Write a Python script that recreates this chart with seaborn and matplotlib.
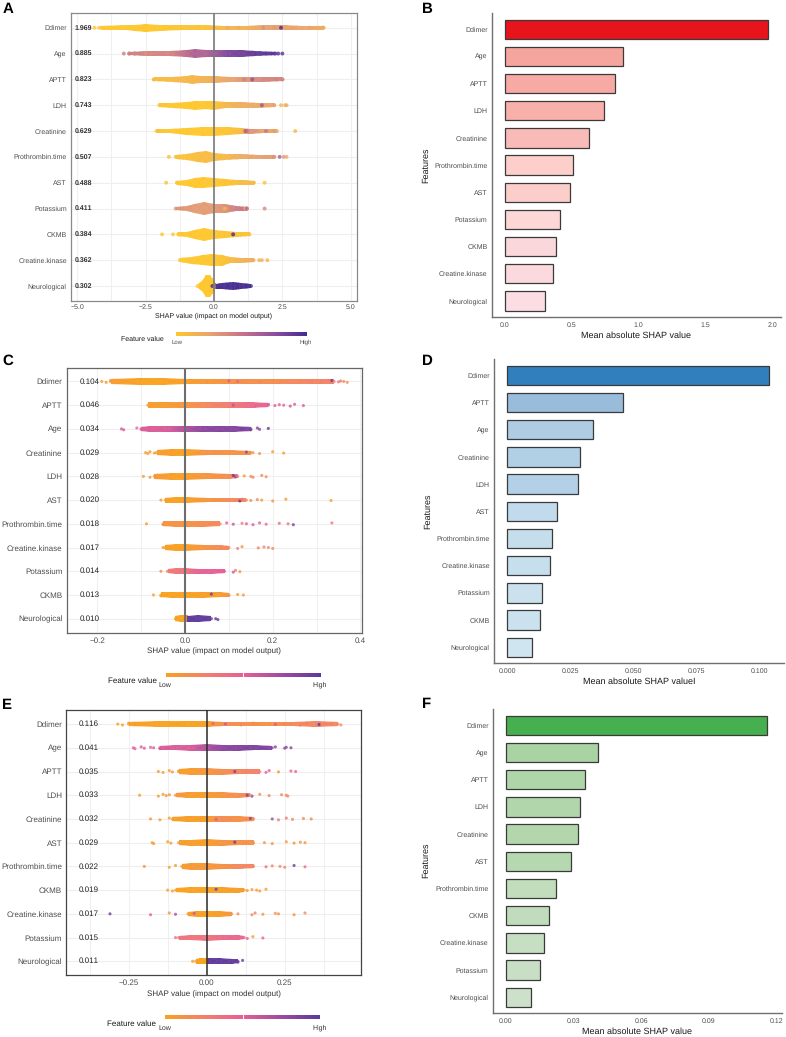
import numpy as np
import pandas as pd
import matplotlib
matplotlib.use("Agg")
import matplotlib.pyplot as plt
from matplotlib.colors import LinearSegmentedColormap
import seaborn as sns

W, H = 786, 1037
GRAY = "#4d4d4d"

# Feature order and mean |SHAP| per cohort
a_features = ["Ddimer", "Age", "APTT", "LDH", "Creatinine", "Prothrombin.time", "AST",
              "Potassium", "CKMB", "Creatine.kinase", "Neurological"]
a_means = [1.969, 0.885, 0.823, 0.743, 0.629, 0.507, 0.488, 0.411, 0.384, 0.362, 0.302]
c_features = ["Ddimer", "APTT", "Age", "Creatinine", "LDH", "AST", "Prothrombin.time",
              "Creatine.kinase", "Potassium", "CKMB", "Neurological"]
c_means = [0.104, 0.046, 0.034, 0.029, 0.028, 0.020, 0.018, 0.017, 0.014, 0.013, 0.010]
e_features = ["Ddimer", "Age", "APTT", "LDH", "Creatinine", "AST", "Prothrombin.time",
              "CKMB", "Creatine.kinase", "Potassium", "Neurological"]
e_means = [0.116, 0.041, 0.035, 0.033, 0.032, 0.029, 0.022, 0.019, 0.017, 0.015, 0.011]

# Bar colours
b_colors = ["#E8141C", "#F6A59E", "#F7A9A4", "#F8B0AB", "#F9BBB7", "#FCCFCB", "#FCCECB",
            "#FDD6D6", "#FAD7DA", "#FBD9DE", "#FBDDE3"]
d_colors = ["#3180BD", "#9ABCDB", "#AECCE3", "#B1CFE5", "#B3D0E6", "#C1DBEC", "#C5DEEC",
            "#C5DFED", "#CBE2EE", "#CBE2EE", "#CFE5EF"]
f_colors = ["#46B04E", "#A9D3A3", "#AFD6A9", "#B2D6AC", "#B3D6AD", "#B6D8B0", "#C1DDBB",
            "#C1DCBD", "#C6DFC3", "#C8DFC5", "#CDE0CA"]

# Swarm outlines: SHAP position, half thickness in pixels, feature-value tone
a_body_x = [[-4.1, -3.2, -2.9, -2.5, -2.0, -1.2, -0.3, 0.3, 1.2, 1.8, 2.5, 3.2, 4.0],
            [-3.1, -2.4, -1.6, -1, -0.7, -0.3, 0, 0.5, 1, 1.5, 2.2],
            [-2.2, -1.5, -1, -0.8, -0.5, -0.2, 0, 0.6, 1.2, 1.8, 2.5],
            [-2.0, -1.5, -1, -0.7, -0.3, 0, 0.4, 1, 1.6, 2.2],
            [-2.1, -1.6, -1, -0.4, 0, 0.5, 1, 1.3, 1.8, 2.3],
            [-1.4, -1, -0.6, -0.3, 0, 0.4, 1, 1.6, 2.2],
            [-1.35, -1, -0.7, -0.4, 0, 0.4, 0.8, 1.1, 1.45],
            [-1.4, -1, -0.7, -0.35, 0, 0.4, 0.8, 1.2],
            [-1.3, -1, -0.7, -0.35, 0, 0.4, 0.8, 1.3],
            [-1.25, -0.8, -0.4, -0.1, 0.3, 0.6, 1, 1.45],
            [-0.6, -0.45, -0.3, -0.15, -0.05, 0.02, 0.08, 0.3, 0.7, 1, 1.35]]
a_body_half = [[1.2, 1.5, 2.2, 3.2, 2.2, 1.6, 1.5, 1.2, 1.2, 1.5, 1.6, 1.4, 1.2],
               [1.1, 1.5, 1.8, 2.5, 3.4, 2.4, 2.4, 3, 2.3, 1.6, 1.1],
               [1.2, 1.6, 2.5, 4, 3, 2.4, 2.6, 1.8, 1.8, 1.6, 1.3],
               [1.3, 1.7, 2.6, 3.8, 3, 3.6, 2.4, 2.2, 1.7, 1.3],
               [1.2, 1.5, 2.7, 3.7, 3.7, 3.2, 2, 1.7, 1.5, 1.2],
               [1.1, 2.2, 4, 5, 3.5, 2.5, 1.6, 1.5, 1.3],
               [1.2, 2, 4, 4.8, 3.5, 2.5, 1.8, 1.6, 1.3],
               [1.1, 1.8, 3.5, 5.5, 4, 3.3, 1.8, 1.2],
               [1.2, 1.8, 3.6, 5.8, 4, 2.4, 1.8, 1.2],
               [1.2, 2.6, 4, 5, 4.5, 2.2, 1.6, 1.2],
               [1.5, 4, 10, 10, 6, 2.5, 1.7, 2, 3, 2, 1.6]]
a_body_tone = [[0, 0, 0, 0, 0, 0.02, 0.04, 0.1, 0.16, 0.25, 0.28, 0.24, 0.2],
               [0.45, 0.42, 0.42, 0.55, 0.62, 0.6, 0.68, 0.8, 0.85, 0.9, 0.92],
               [0.08, 0.1, 0.12, 0.12, 0.14, 0.16, 0.18, 0.25, 0.32, 0.4, 0.42],
               [0.02, 0, 0, 0, 0, 0.02, 0.12, 0.18, 0.22, 0.25],
               [0.02, 0, 0, 0, 0, 0.02, 0.08, 0.35, 0.25, 0.22],
               [0.05, 0.05, 0.07, 0.08, 0.08, 0.1, 0.2, 0.26, 0.3],
               [0, 0, 0, 0, 0, 0.02, 0.05, 0.1, 0.1],
               [0.35, 0.32, 0.3, 0.3, 0.3, 0.35, 0.45, 0.5],
               [0, 0, 0, 0, 0, 0.02, 0.05, 0.04],
               [0, 0, 0, 0, 0.02, 0.08, 0.16, 0.18],
               [0, 0, 0, 0, 0, 0.02, 1, 1, 1, 1, 1]]
c_body_x = [[-0.17, -0.1, -0.05, 0, 0.05, 0.1, 0.15, 0.2, 0.25, 0.3, 0.34],
            [-0.085, -0.05, 0, 0.05, 0.1, 0.15, 0.19],
            [-0.1, -0.08, -0.04, 0, 0.04, 0.08, 0.11, 0.15],
            [-0.065, -0.03, 0, 0.05, 0.1, 0.15],
            [-0.07, -0.03, 0, 0.05, 0.1, 0.12],
            [-0.045, -0.02, 0, 0.05, 0.1, 0.14],
            [-0.05, -0.02, 0, 0.04, 0.08],
            [-0.045, -0.02, 0, 0.04, 0.08, 0.1],
            [-0.04, -0.02, 0, 0.03, 0.06, 0.09],
            [-0.055, -0.03, 0, 0.04, 0.08, 0.1],
            [-0.022, -0.01, 0.003, 0.006, 0.03, 0.06]]
c_body_half = [[1.5, 2.6, 2.6, 2, 1.5, 1.7, 1.6, 1.7, 2, 2, 1.6],
               [2, 2.6, 2.6, 2.4, 2, 2, 1.4],
               [1, 2, 2.6, 2.6, 2.6, 2.2, 2, 1.2],
               [1.8, 2.6, 2.6, 2, 1.9, 1.4],
               [1.7, 2.5, 2.5, 2.3, 2, 1.3],
               [1.8, 2.4, 2.4, 1.6, 1.7, 1],
               [1.8, 2.4, 2.4, 2, 1.8],
               [1.7, 2.5, 2.4, 2, 1.7, 1.3],
               [1.5, 2.3, 2.3, 1.9, 1.8, 1.1],
               [1.8, 2, 2.3, 2, 1.8, 1.5],
               [2, 2.6, 2.6, 2.4, 2.6, 2]]
c_body_tone = [[0.05, 0, 0, 0.02, 0.08, 0.12, 0.15, 0.15, 0.2, 0.22, 0.25],
               [0.05, 0.05, 0.1, 0.2, 0.3, 0.4, 0.5],
               [0.55, 0.55, 0.55, 0.7, 0.82, 0.85, 0.85, 0.88],
               [0.05, 0.02, 0, 0.12, 0.12, 0.14],
               [0.08, 0.02, 0.02, 0.1, 0.16, 0.3],
               [0.02, 0, 0, 0.1, 0.18, 0.2],
               [0.1, 0.12, 0.12, 0.15, 0.2],
               [0.03, 0, 0.02, 0.1, 0.18, 0.2],
               [0.3, 0.32, 0.35, 0.5, 0.5, 0.5],
               [0, 0, 0, 0.02, 0.05, 0.1],
               [0, 0, 0, 1, 0.98, 0.98]]
e_body_x = [[-0.25, -0.15, -0.05, 0, 0.05, 0.12, 0.2, 0.28, 0.35, 0.42],
            [-0.15, -0.1, -0.05, 0, 0.05, 0.1, 0.15, 0.21],
            [-0.09, -0.05, 0, 0.05, 0.1, 0.17],
            [-0.1, -0.06, 0, 0.05, 0.1, 0.14],
            [-0.11, -0.06, 0, 0.05, 0.1, 0.15],
            [-0.09, -0.05, 0, 0.05, 0.1, 0.15],
            [-0.08, -0.05, 0, 0.05, 0.1, 0.15],
            [-0.1, -0.05, 0, 0.05, 0.1, 0.12],
            [-0.06, -0.03, 0, 0.04, 0.08],
            [-0.09, -0.05, 0, 0.05, 0.1, 0.12],
            [-0.035, -0.02, 0.003, 0.005, 0.04, 0.08, 0.1]]
e_body_half = [[1.4, 2.4, 2.6, 2.4, 1.6, 1.7, 1.5, 1.7, 2, 1.7],
               [1.2, 2, 2.5, 2.6, 2.5, 2.3, 2, 1.3],
               [1.6, 2.4, 2.4, 2.3, 2, 1.5],
               [1.3, 2.3, 2.5, 2.1, 1.8, 1.3],
               [1.4, 2.3, 2.5, 1.9, 1.9, 1.4],
               [1.6, 2.4, 2.6, 2.2, 2, 1.5],
               [1.4, 2.4, 2.4, 2.1, 1.8, 1.3],
               [1.6, 2.1, 2.5, 2.2, 1.9, 1.3],
               [1.3, 2.2, 2.5, 2.1, 1.5],
               [1.3, 2, 2.3, 2.1, 1.7, 1.2],
               [1.7, 2.4, 2.4, 2.4, 2.4, 2, 1.3]]
e_body_tone = [[0.02, 0, 0, 0.02, 0.15, 0.15, 0.12, 0.18, 0.22, 0.2],
               [0.55, 0.55, 0.55, 0.7, 0.82, 0.85, 0.88, 0.85],
               [0.02, 0.05, 0.1, 0.15, 0.2, 0.25],
               [0.1, 0.05, 0.05, 0.1, 0.15, 0.2],
               [0.03, 0.03, 0.03, 0.18, 0.12, 0.15],
               [0.04, 0.03, 0.03, 0.1, 0.13, 0.12],
               [0.05, 0.07, 0.08, 0.12, 0.2, 0.22],
               [0, 0, 0, 0.02, 0.03, 0.05],
               [0.05, 0.02, 0, 0.03, 0.1],
               [0.35, 0.35, 0.35, 0.42, 0.45, 0.42],
               [0, 0, 0, 1, 0.98, 0.97, 0.95]]

# Individually visible samples: SHAP position and feature-value tone
a_dot_x = [[-4.37, -4.2, -4.1, 0.5, 0.9, 1.8, 2.2, 2.45, 2.7, 3.5, 3.8, 3.95, 4.0],
           [-3.3, -3.1, -2.9, -2.7, -2.5, 1.9, 2.1, 2.25, 2.35, 2.5],
           [-2.2, 1.1, 1.4, 1.9, 2.3, 2.5],
           [1.75, 2.2, 2.45, 2.6, 2.65],
           [-2.05, 1.15, 1.2, 1.9, 2.2, 2.97],
           [-1.65, -1.35, 2.2, 2.4, 2.55, 2.65],
           [-1.75, -1.35, 1.45, 1.85],
           [0.4, 1.15, 1.2, 1.85],
           [-1.9, -1.5, -1.3, 0.7],
           [1.4, 1.65, 1.75, 1.95],
           [-0.06]]
a_dot_tone = [[0, 0, 0, 0.2, 0.2, 0.35, 0.3, 1.0, 0.2, 0.25, 0.2, 0.18, 0.18],
              [0.45, 0.42, 0.4, 0.42, 0.35, 0.9, 0.92, 0.9, 0.95, 0.95],
              [0.1, 0.45, 0.75, 0.4, 0.42, 0.42],
              [0.7, 0.3, 0.15, 0.15, 0.2],
              [0.1, 0.7, 0.55, 0.5, 0.3, 0.12],
              [0.05, 0.05, 0.45, 0.65, 0.3, 0.2],
              [0.05, 0, 0.05, 0.05],
              [0.1, 0.1, 0.6, 0.4],
              [0, 0, 0, 1.0],
              [0.2, 0.15, 0.15, 0.15],
              [1.0]]
c_dot_x = [[-0.19, -0.18, -0.17, 0.05, 0.1, 0.12, 0.17, 0.2, 0.22, 0.26, 0.29, 0.31, 0.335, 0.35, 0.355, 0.362, 0.37],
           [0.11, 0.16, 0.19, 0.205, 0.215, 0.225, 0.24, 0.25, 0.27],
           [-0.145, -0.14, -0.11, -0.1, -0.09, 0.13, 0.15, 0.165, 0.17, 0.19],
           [-0.09, -0.085, -0.08, -0.07, 0.14, 0.155, 0.17, 0.2, 0.225],
           [-0.095, -0.08, 0.11, 0.115, 0.135, 0.15, 0.155, 0.175, 0.185],
           [-0.055, 0.125, 0.13, 0.15, 0.165, 0.175, 0.2, 0.23, 0.333],
           [-0.088, -0.05, 0.095, 0.11, 0.13, 0.14, 0.155, 0.17, 0.185, 0.215, 0.235, 0.247, 0.335],
           [-0.05, 0.12, 0.13, 0.167, 0.18, 0.19, 0.2],
           [-0.055, 0.11, 0.115, 0.125],
           [-0.072, -0.055, 0.06, 0.1, 0.12, 0.133],
           [0.07, 0.075]]
c_dot_tone = [[0.05, 0.08, 0.1, 0.15, 0.55, 0.45, 0.2, 0.15, 0.2, 0.2, 0.25, 0.25, 1.0, 0.35, 0.3, 0.2, 0.12],
              [0.65, 0.5, 0.55, 0.55, 0.55, 0.5, 0.6, 0.55, 0.55],
              [0.55, 0.55, 0.45, 0.45, 0.5, 0.9, 0.92, 0.85, 0.85, 1.0],
              [0.05, 0.05, 0.03, 0.05, 0.8, 0.1, 0.1, 0.05, 0.03],
              [0.05, 0.1, 0.95, 0.8, 0.1, 0.15, 0.25, 0.2, 0.15],
              [0.05, 0.95, 0.3, 0.2, 0.2, 0.05, 0.1, 0.05, 0.02],
              [0.03, 0.1, 0.5, 0.6, 0.3, 0.5, 0.55, 0.5, 0.4, 0.4, 0.35, 0.9, 0.3],
              [0.05, 0.25, 0.1, 0.25, 0.25, 0.2, 0.2],
              [0.2, 0.6, 0.3, 0.1],
              [0, 0, 0.95, 0.1, 0.05, 0.05],
              [0.98, 0.95]]
e_dot_x = [[-0.285, -0.27, -0.25, -0.23, 0.02, 0.06, 0.11, 0.15, 0.22, 0.25, 0.27, 0.3, 0.32, 0.36, 0.38, 0.4, 0.43],
           [-0.235, -0.23, -0.21, -0.2, -0.18, -0.17, -0.15, 0.22, 0.25, 0.255, 0.27],
           [-0.155, -0.14, -0.12, -0.11, -0.09, 0.09, 0.19, 0.2, 0.23, 0.27, 0.285],
           [-0.215, -0.155, -0.14, -0.13, -0.12, 0.13, 0.145, 0.17, 0.2, 0.24, 0.255, 0.26],
           [-0.18, -0.15, -0.12, 0.03, 0.14, 0.21, 0.23, 0.255, 0.275, 0.31, 0.335],
           [-0.175, -0.17, -0.125, -0.115, 0.09, 0.185, 0.21, 0.255, 0.28, 0.3, 0.315],
           [-0.2, -0.12, -0.1, 0.19, 0.21, 0.235, 0.25, 0.28, 0.315],
           [-0.125, -0.11, 0.03, 0.13, 0.145, 0.16, 0.17, 0.19],
           [-0.31, -0.18, -0.12, -0.1, -0.04, 0.1, 0.145, 0.155, 0.18, 0.22, 0.23, 0.28, 0.315],
           [-0.1, 0.13, 0.148, 0.18],
           [-0.045, 0.1, 0.115]]
e_dot_tone = [[0.03, 0.03, 0.05, 0.03, 0.5, 0.6, 0.2, 0.15, 0.55, 0.2, 0.2, 0.25, 0.25, 1.0, 0.25, 0.22, 0.2],
              [0.5, 0.5, 0.55, 0.55, 0.5, 0.55, 0.6, 0.85, 0.85, 0.8, 0.85],
              [0.05, 0.03, 0.05, 0.1, 0.05, 0.9, 0.5, 0.5, 0.05, 0.45, 0.45],
              [0.03, 0.03, 0.05, 0.1, 0.1, 0.9, 0.9, 0.15, 0.2, 0.2, 0.2, 0.2],
              [0.05, 0.05, 0.03, 0.55, 0.85, 0.75, 0.3, 0.3, 0.2, 0.2, 0.2],
              [0.05, 0.05, 0.03, 0.05, 0.95, 0.1, 0.1, 0.08, 0.08, 0.08, 0.08],
              [0.15, 0.02, 0.05, 0.4, 0.2, 0.2, 0.2, 0.95, 0.4],
              [0.02, 0.02, 0.95, 0.05, 0.05, 0.04, 0.05, 0.05],
              [0.95, 0.5, 0.1, 0.7, 0.6, 0.2, 0.2, 0.25, 0.1, 0.15, 0.1, 0.15, 0.2],
              [0.35, 0.5, 0.05, 0.5],
              [0.05, 0.9, 0.95]]

warm_map = LinearSegmentedColormap.from_list(
    "warm", ["#FFC72C", "#E9A56E", "#C8748A", "#8E4FA0", "#462C90"])
vivid_map = LinearSegmentedColormap.from_list(
    "vivid", ["#F9A11F", "#F3806C", "#E85F96", "#9F4BA0", "#5B3A9B"])

sns.set_theme(style="white")
plt.rcParams["font.family"] = ["Liberation Sans", "DejaVu Sans"]
plt.rcParams["text.hinting"] = "none"
plt.rcParams["text.hinting_factor"] = 1
fig = plt.figure(figsize=(W / 100, H / 100), dpi=100)


def px_axes(x0, y0, x1, y1):
    """Axes placed by pixel edges, measured from the top-left of the figure."""
    return fig.add_axes([x0 / W, 1 - y1 / H, (x1 - x0) / W, (y1 - y0) / H])


def px_text(x, y, s, **kw):
    kw.setdefault("va", "center")
    fig.text(x / W, 1 - y / H, s, **kw)


def swarm_panel(box, xlim, ylim, ticks, ticklabels, grid_step, features, means, bx, bh, bt, dx, dt,
                cmap, spacing, dot_size, body_pad, edge, zero_color, zero_width, jitter,
                label_size, value_x, value_kw, tick_size, tick_pad):
    ax = px_axes(*box)
    ax.set_facecolor("white")
    grid_start = np.ceil(xlim[0] / grid_step) * grid_step
    for gx in np.arange(grid_start, xlim[1], grid_step):
        ax.axvline(gx, color="#F0F0F0", lw=0.8, zorder=0)
    for row in range(len(features)):
        ax.axhline(row, color="#EEEEEE", lw=0.8, zorder=0)

    # Solid core of each swarm, shaded along its length by feature value
    for row in range(len(features)):
        xs = np.array(bx[row], float)
        half = (np.array(bh[row], float) + body_pad) / spacing
        tones = np.array(bt[row], float)
        outline = ax.fill_between(xs, row - half, row + half, color="none", lw=0, zorder=2)
        mesh = ax.pcolormesh(xs, [row - half.max(), row + half.max()], np.vstack([tones, tones]),
                             shading="gouraud", cmap=cmap, vmin=0, vmax=1, zorder=2, alpha=0.95)
        mesh.set_clip_path(outline.get_paths()[0], ax.transData)

    # Separate samples, plus a round cap at both ends of each swarm core
    rows, xs, tones = [], [], []
    for row in range(len(features)):
        for k, (px, tn) in enumerate(zip(dx[row], dt[row])):
            rows.append(row + jitter[k % len(jitter)] / spacing)
            xs.append(px)
            tones.append(tn)
        for end in (0, -1):
            rows.append(row)
            xs.append(bx[row][end])
            tones.append(bt[row][end])
    dots = pd.DataFrame({"shap": xs, "row": rows, "tone": tones})
    sns.scatterplot(data=dots, x="shap", y="row", hue="tone", palette=cmap, hue_norm=(0, 1),
                    s=dot_size, alpha=0.8, linewidth=0, legend=False, ax=ax, zorder=3)

    ax.axvline(0, color=zero_color, lw=zero_width, zorder=4)
    ax.set_xlim(*xlim)
    ax.set_ylim(*ylim)
    ax.set_yticks(range(len(features)))
    ax.set_yticklabels(features, fontsize=label_size, color=GRAY)
    ax.set_xticks(ticks)
    ax.set_xticklabels(ticklabels, fontsize=tick_size, color=GRAY)
    ax.tick_params(axis="y", length=0, pad=3)
    ax.tick_params(axis="x", length=0, pad=tick_pad)
    ax.set_xlabel("")
    ax.set_ylabel("")
    ax.grid(False)
    for s in ax.spines.values():
        s.set_color(edge)
        s.set_linewidth(0.9)
    for row, m in enumerate(means):
        ax.text(value_x, row, f"{m:.3f}", va="center", ha="left",
                transform=ax.get_yaxis_transform(), zorder=5, **value_kw)
    return ax


def color_key(box, cmap, white_tick):
    key = px_axes(*box)
    key.imshow(np.linspace(0, 1, 256)[None, :], aspect="auto", cmap=cmap, vmin=0, vmax=1)
    if white_tick:
        key.axvline(127.5, color="white", lw=0.7)
    key.axis("off")


def bar_panel(box, xlim, ylim, ticks, ticklabels, features, means, colors, xlabel):
    ax = px_axes(*box)
    bars = pd.DataFrame({"feature": features, "mean_shap": means})
    sns.barplot(data=bars, y="feature", x="mean_shap", hue="feature", palette=colors, legend=False,
                order=features, width=0.71, saturation=1, edgecolor="#3a3a3a", linewidth=0.9, ax=ax)
    ax.set_xlim(*xlim)
    ax.set_ylim(*ylim)
    ax.set_xticks(ticks)
    ax.set_xticklabels(ticklabels, fontsize=4.8, color=GRAY)
    ax.tick_params(axis="y", labelsize=5.2, labelcolor=GRAY, length=0, pad=3)
    ax.tick_params(axis="x", length=0, pad=3.5)
    ax.set_xlabel(xlabel, fontsize=6.7, color="#1a1a1a", labelpad=2)
    ax.set_ylabel("")
    for side in ("top", "right"):
        ax.spines[side].set_visible(False)
    for side in ("left", "bottom"):
        ax.spines[side].set_color("#707070")
        ax.spines[side].set_linewidth(1.0)
    return ax


# Panel A: beeswarm for the first cohort
swarm_panel((71, 13, 357.3, 300.5), (-5.23, 5.24), (10.56, -0.57),
            [-5, -2.5, 0, 2.5, 5], ["\u22125.0", "\u22122.5", "0.0", "2.5", "5.0"], 1.25,
            a_features, a_means, a_body_x, a_body_half, a_body_tone, a_dot_x, a_dot_tone,
            warm_map, 25.74, 8, 0.8, "#8a8a8a", "#7a7a7a", 1.2, [0],
            5.05, 0.012, dict(fontsize=4.95, fontweight="bold", color="#333333"), 5.0, 2.5)
px_text(214, 316, "SHAP value (impact on model output)", fontsize=5.4, ha="center", color="#1a1a1a")
color_key((176, 332, 307, 336), warm_map, False)
px_text(121, 339, "Feature value", fontsize=5.2, color="#1a1a1a")
px_text(171, 342.5, "Low", fontsize=4.3, color=GRAY)
px_text(299.5, 342.5, "High", fontsize=4.3, color=GRAY)

# Panel C: beeswarm for the second cohort
swarm_panel((66.7, 367.7, 361.7, 632.7), (-0.27, 0.403), (10.59, -0.58),
            [-0.2, 0, 0.2, 0.4], ["\u22120.2", "0.0", "0.2", "0.4"], 0.1,
            c_features, c_means, c_body_x, c_body_half, c_body_tone, c_dot_x, c_dot_tone,
            vivid_map, 23.7, 5, 0.7, "#666666", "#6e6e6e", 1.5, [0, 0.9, -0.9, 0.4, -0.5],
            5.8, 0.045, dict(fontsize=5.6, color="#222222"), 5.9, 3)
px_text(214, 651.7, "SHAP value (impact on model output)", fontsize=5.55, ha="center", color="#333333")
color_key((166, 672.7, 320.5, 676.7), vivid_map, True)
px_text(108, 681, "Feature value", fontsize=5.9, color="#1a1a1a")
px_text(158.5, 685, "Low", fontsize=5.2, color="#333333")
px_text(312.5, 685, "High", fontsize=5.2, color="#333333")

# Panel E: beeswarm for the third cohort
swarm_panel((66.3, 710.3, 361, 975.3), (-0.45, 0.4945), (10.59, -0.58),
            [-0.25, 0, 0.25], ["\u22120.25", "0.00", "0.25"], 0.125,
            e_features, e_means, e_body_x, e_body_half, e_body_tone, e_dot_x, e_dot_tone,
            vivid_map, 23.7, 5, 0.7, "#444444", "#2a2a2a", 1.1, [0, 0.9, -0.9, 0.4, -0.5],
            5.8, 0.043, dict(fontsize=5.6, color="#222222"), 5.9, 3)
px_text(213.5, 994, "SHAP value (impact on model output)", fontsize=5.55, ha="center", color="#333333")
color_key((165, 1015, 320, 1019), vivid_map, True)
px_text(107.5, 1023.7, "Feature value", fontsize=5.9, color="#1a1a1a")
px_text(158, 1028, "Low", fontsize=5.2, color="#333333")
px_text(312, 1028, "High", fontsize=5.2, color="#333333")

# Panels B, D and F: ranked mean absolute SHAP bars
bar_panel((491.7, 13, 781, 317), (-0.0995, 2.064), (10.59, -0.6),
          [0, 0.5, 1, 1.5, 2], ["0.0", "0.5", "1.0", "1.5", "2.0"],
          a_features, a_means, b_colors, "Mean absolute SHAP value")
bar_panel((494, 359.3, 784, 663.3), (-0.00515, 0.1098), (10.59, -0.59),
          [0, 0.025, 0.05, 0.075, 0.1], ["0.000", "0.025", "0.050", "0.075", "0.100"],
          c_features, c_means, d_colors, "Mean absolute SHAP valueI")
bar_panel((492.7, 709, 782.3, 1013.3), (-0.0059, 0.1227), (10.59, -0.6),
          [0, 0.03, 0.06, 0.09, 0.12], ["0.00", "0.03", "0.06", "0.09", "0.12"],
          e_features, e_means, f_colors, "Mean absolute SHAP value")
px_text(425.5, 165, "Features", fontsize=6.7, rotation=90, ha="center", color="#1a1a1a")
px_text(427.5, 511, "Features", fontsize=6.7, rotation=90, ha="center", color="#1a1a1a")
px_text(426, 860.7, "Features", fontsize=6.7, rotation=90, ha="center", color="#1a1a1a")

# Panel letters
for x, y, letter in [(3, 9.5, "A"), (422, 9, "B"), (2.5, 361, "C"), (422, 361, "D"),
                     (2, 705, "E"), (422, 704.5, "F")]:
    px_text(x, y, letter, fontsize=10.5, fontweight="bold", color="black")

fig.savefig("out.png", dpi=100, facecolor="white")
